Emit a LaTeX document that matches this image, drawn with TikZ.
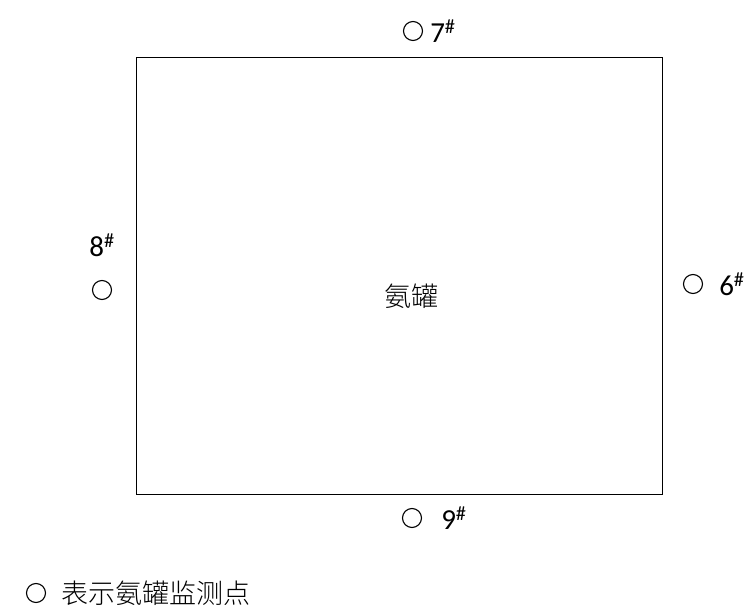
\documentclass[tikz,border=0pt]{standalone}
\usepackage{fontspec}
\setmainfont{Carlito}
\newfontfamily\cjk{Noto Sans CJK SC Light}
\usetikzlibrary{positioning}
\tikzset{
  spot/.style={circle, draw, line width=1.1pt, minimum size=19pt, inner sep=0pt},
  numlab/.style={inner sep=1pt, font=\fontsize{29}{29}\selectfont},
  cjklab/.style={inner sep=1pt, font=\fontsize{27}{27}\selectfont\cjk}
}
\begin{document}
\begin{tikzpicture}[x=1pt,y=-1pt]
\useasboundingbox[fill=white] (0,0) rectangle (748,608);
\node[draw, line width=1.3pt, anchor=north west, minimum width=526pt, minimum height=437pt] (tank) at (136,57){};
\node[cjklab] (tankname) at (411,296){氨罐};
\node[spot] (pt7) at (413,31){};
\node[numlab, right=6pt of pt7] (lab7) {7\textsuperscript{\#}};
\node[spot] (pt8) at (102,290){};
\node[numlab, above=22pt of pt8] (lab8) {8\textsuperscript{\#}};
\node[spot] (pt6) at (693,284){};
\node[numlab, right=15pt of pt6] (lab6) {6\textsuperscript{\#}};
\node[spot] (pt9) at (412,518){};
\node[numlab, right=18pt of pt9] (lab9) {9\textsuperscript{\#}};
\node[spot] (ptkey) at (36,593){};
\node[cjklab, right=14pt of ptkey] (keytext) {表示氨罐监测点};
\end{tikzpicture}
\end{document}
